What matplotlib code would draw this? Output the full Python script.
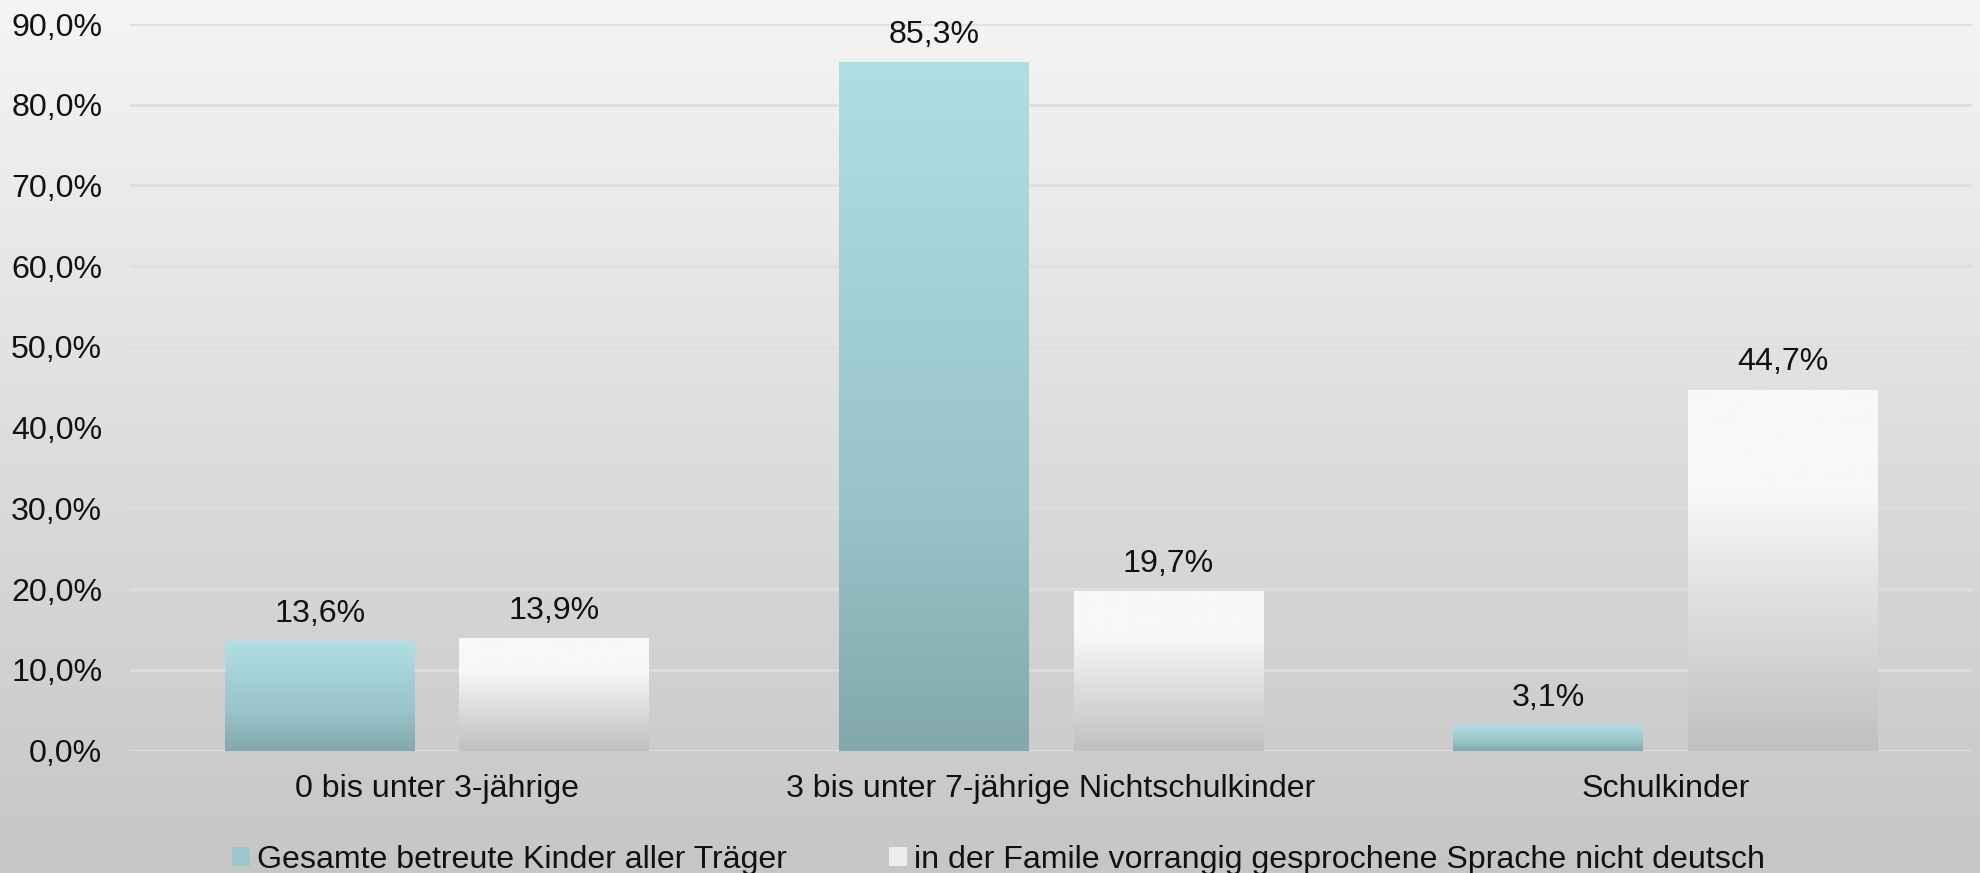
import numpy as np
import matplotlib
matplotlib.use("Agg")
import matplotlib.pyplot as plt
from matplotlib.colors import LinearSegmentedColormap
from matplotlib.patches import Patch

plt.rcParams['font.family'] = ['Liberation Sans', 'DejaVu Sans']

categories = ["0 bis unter 3-jährige", "3 bis unter 7-jährige Nichtschulkinder", "Schulkinder"]
series_names = ["Gesamte betreute Kinder aller Träger",
                "in der Famile vorrangig gesprochene Sprache nicht deutsch"]
gesamt = [13.6, 85.3, 3.1]
nicht_deutsch = [13.9, 19.7, 44.7]
yticks = [0, 10, 20, 30, 40, 50, 60, 70, 80, 90]

FS = 23.1

fig = plt.figure(figsize=(19.81, 8.73), dpi=100)

# background gradient
bg = fig.add_axes([0, 0, 1, 1], zorder=-10)
bg_cmap = LinearSegmentedColormap.from_list("bg", ["#c6c6c6", "#f5f5f5"])
grad = np.linspace(0, 1, 256).reshape(-1, 1)
bg.imshow(grad, aspect='auto', cmap=bg_cmap, origin='lower', extent=[0, 1, 0, 1])
bg.set_axis_off()

ax = fig.add_axes([0.0656, 0.1403, 0.930, 0.8322])
ax.patch.set_alpha(0)
for s in ax.spines.values():
    s.set_visible(False)

x = np.arange(len(categories))
w = 0.309
off = 0.191

blue_cmap = LinearSegmentedColormap.from_list("bl", [(0, "#82a8ad"), (0.35, "#98c3c8"), (1, "#b0dfe3")])
white_cmap = LinearSegmentedColormap.from_list("wh", [(0, "#c0c0c0"), (0.45, "#e2e2e2"), (0.72, "#f8f8f8"), (1, "#f8f8f8")])

b1 = ax.bar(x - off, gesamt, w, color="#a6d3d8", zorder=3)
b2 = ax.bar(x + off, nicht_deutsch, w, color="#e8e8e8", zorder=3)

for bars, cmap in ((b1, blue_cmap), (b2, white_cmap)):
    for r in bars:
        x0, h, bw = r.get_x(), r.get_height(), r.get_width()
        im = ax.imshow(grad, aspect='auto', cmap=cmap, origin='lower',
                       extent=[x0, x0 + bw, 0, h], zorder=4)
        im.set_clip_path(r)
        # bottom shadow
        ax.bar(x0 + bw / 2, -0.45, bw, bottom=0, color="#8c8c8c", alpha=0.7, zorder=2)
        ax.annotate(f"{h:.1f}%".replace(".", ","), (x0 + bw / 2, h),
                    xytext=(0, 19.6), textcoords='offset points',
                    ha='center', va='center', fontsize=FS, color='#111111', zorder=6)

ax.set_xlim(-0.5, 2.5)
ax.set_ylim(0, 90)
ax.set_yticks(yticks)
ax.set_yticklabels([f"{v:.1f}%".replace(".", ",") for v in yticks], fontsize=FS, color='#111111')
ax.set_xticks(x)
ax.set_xticklabels(categories, fontsize=FS, color='#111111')
ax.tick_params(axis='y', length=0, pad=20)
ax.tick_params(axis='x', length=0, pad=17)
ax.yaxis.grid(True, color='#dedede', linewidth=2, zorder=0)
ax.set_axisbelow(True)

handles = [Patch(facecolor="#9cc8cd", edgecolor='none'),
           Patch(facecolor="#ececec", edgecolor='none')]
fig.legend(handles, series_names, loc='center', bbox_to_anchor=(0.504, 1 - 860 / 873),
           ncol=2, frameon=False, fontsize=FS, handlelength=0.55, handleheight=0.55,
           handletextpad=0.22, columnspacing=3.2, labelcolor='#111111')

fig.savefig("out.png", dpi=100)
